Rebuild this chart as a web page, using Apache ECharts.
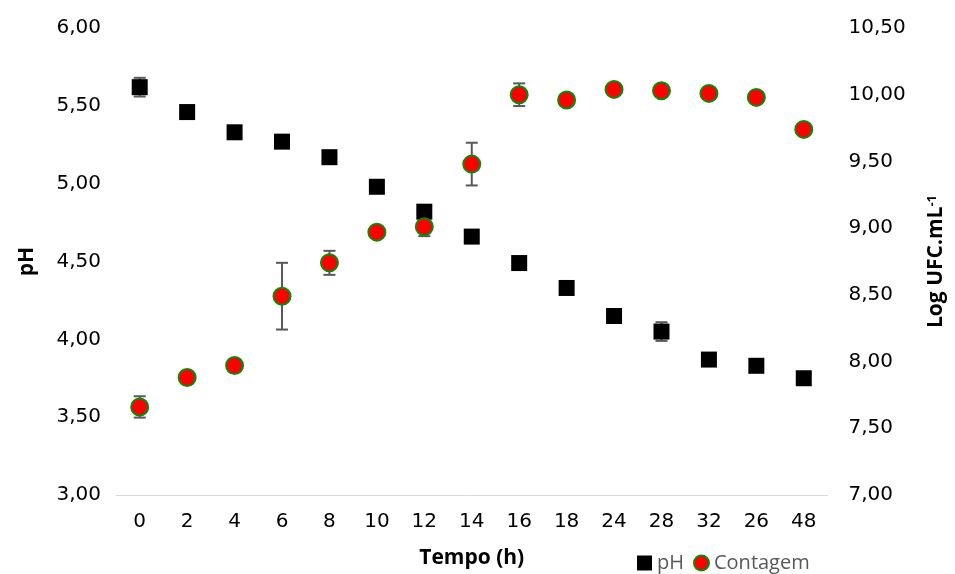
<!DOCTYPE html>
<html><head><meta charset="utf-8">
<script src="https://cdn.jsdelivr.net/npm/echarts@6/dist/echarts.min.js"></script>
<style>html,body{margin:0;padding:0;background:#fff}#c{width:955px;height:574px}</style>
</head><body><div id="c"></div>
<script>
const categories = ['0','2','4','6','8','10','12','14','16','18','24','28','32','26','48'];
const phValues = [5.62,5.46,5.33,5.27,5.17,4.98,4.82,4.66,4.49,4.33,4.15,4.05,3.87,3.83,3.75];
const phErrors = [0.06,0,0,0,0,0,0,0,0,0,0,0.06,0,0,0];
const countValues = [7.66,7.88,7.97,8.49,8.74,8.97,9.01,9.48,10.00,9.96,10.04,10.03,10.01,9.98,9.74];
const countErrors = [0.08,0,0,0.25,0.09,0,0.07,0.16,0.085,0,0,0,0,0,0];
const leftTicks = {min:3, max:6, interval:0.5};
const rightTicks = {min:7, max:10.5, interval:0.5};

const chart = echarts.init(document.getElementById('c'), null, {renderer:'canvas'});
const fmt = v => v.toFixed(2).replace('.', ',');
const tickFont = {fontFamily:'DejaVu Sans', fontSize:20, color:'#000'};
const titleFont = {fontFamily:'Open Sans', fontWeight:'bold', fontSize:21, color:'#000'};
function errSeries(name, vals, errs, yIdx){
  return {
    type:'custom', name:name, yAxisIndex:yIdx, z:1, silent:true,
    data: vals.map((v,i)=>[i,v,errs[i]]).filter(d=>d[2]>0),
    encode:{x:0,y:1},
    renderItem:function(params, api){
      const i = api.value(0), v = api.value(1), e = api.value(2);
      const t = api.coord([i, v+e]), b = api.coord([i, v-e]);
      const w = 6, st = {stroke:'#595959', lineWidth:2};
      return {type:'group', children:[
        {type:'line', shape:{x1:t[0],y1:t[1],x2:b[0],y2:b[1]}, style:st},
        {type:'line', shape:{x1:t[0]-w,y1:t[1],x2:t[0]+w,y2:t[1]}, style:st},
        {type:'line', shape:{x1:b[0]-w,y1:b[1],x2:b[0]+w,y2:b[1]}, style:st}
      ]};
    }
  };
}
chart.setOption({
  animation:false,
  backgroundColor:'#fff',
  grid:{left:116, right:124, top:28, bottom:78, containLabel:false},
  legend:{
    data:['pH','Contagem'], left:632, top:548, itemWidth:15, itemHeight:15, itemGap:9,
    textStyle:{fontFamily:'Open Sans', fontSize:20, color:'#595959'}
  },
  xAxis:{
    type:'category', data:categories, boundaryGap:true,
    axisLine:{show:true, lineStyle:{color:'#d9d9d9', width:1}},
    axisTick:{show:false},
    axisLabel:Object.assign({margin:17}, tickFont),
    name:'Tempo (h)', nameLocation:'middle', nameGap:53,
    nameTextStyle:titleFont
  },
  yAxis:[
    Object.assign({
      type:'value', position:'left',
      axisLine:{show:false}, axisTick:{show:false}, splitLine:{show:false},
      axisLabel:Object.assign({margin:15, formatter:fmt}, tickFont),
      name:'pH', nameLocation:'middle', nameGap:78,
      nameTextStyle:titleFont
    }, leftTicks),
    Object.assign({
      type:'value', position:'right',
      axisLine:{show:false}, axisTick:{show:false}, splitLine:{show:false},
      axisLabel:Object.assign({margin:21, formatter:fmt}, tickFont),
      name:'{b|Log UFC.mL}{s|-1}', nameLocation:'middle', nameGap:98,
      nameTextStyle:{rich:{
        b:titleFont,
        s:{fontFamily:'Open Sans', fontWeight:'bold', fontSize:13, color:'#000', verticalAlign:'top', padding:[0,0,9,0]}
      }}
    }, rightTicks)
  ],
  series:[
    errSeries('phErr', phValues, phErrors, 0),
    errSeries('countErr', countValues, countErrors, 1),
    {type:'scatter', name:'pH', yAxisIndex:0, data:phValues, symbol:'rect', symbolSize:16, z:2,
     itemStyle:{color:'#000', borderColor:'#000', borderWidth:0, opacity:1}},
    {type:'scatter', name:'Contagem', yAxisIndex:1, data:countValues, symbol:'circle', symbolSize:17, z:3,
     itemStyle:{color:'#ff0000', borderColor:'#0a8a0a', borderWidth:2, opacity:1}}
  ]
});
</script></body></html>
